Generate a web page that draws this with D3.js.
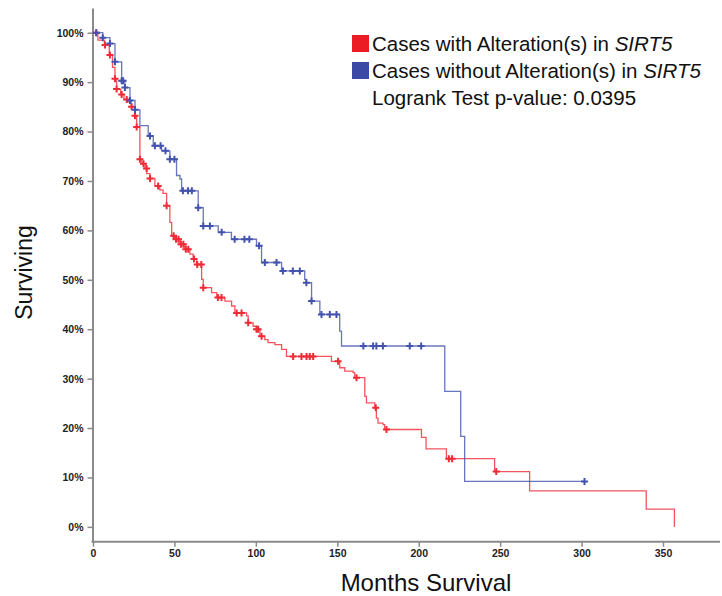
<!DOCTYPE html>
<html>
<head>
<meta charset="utf-8">
<script src="https://cdn.jsdelivr.net/npm/d3@7"></script>
<style>
  body { margin: 0; background: #fff; }
  svg { font-family: "Liberation Sans", Arial, sans-serif; }
</style>
</head>
<body>
<svg id="km" width="722" height="596"></svg>
<script>
// Kaplan-Meier steps: [months, % surviving]
const alteredSteps = [
  [0, 100], [3, 98.5], [7, 97.5], [10, 95.5], [12, 93], [13.5, 90.7], [14.5, 88.6],
  [17, 87.5], [19, 86.5], [21, 86], [23.5, 85], [25.8, 83.2], [26.8, 80.9], [28.8, 74.4],
  [30, 73.5], [32, 72.5], [33, 71.5], [35, 70.5], [38, 69], [41, 68.2], [43, 67.5],
  [45.2, 65], [47.2, 61.6], [48.3, 58.9], [50.3, 58.2], [53.4, 57.2], [56.4, 56.2],
  [59.5, 55.2], [61.5, 54.2], [63.6, 53.1], [66.7, 50.1], [67.7, 48.4], [72.8, 47.4],
  [76, 46.4], [81, 45.7], [85.1, 44.7], [87.1, 43.3], [94.3, 42.7], [95.3, 41.3],
  [98.3, 40.6], [100.4, 40], [102.5, 38.6], [105.5, 37.9], [107.5, 37.3], [111.7, 36.9],
  [115.8, 35.9], [118.8, 34.5], [146.4, 33.5], [151.5, 32.2], [154.6, 31.5], [159.7, 31.2],
  [160.7, 30.2], [166.9, 26.4], [167.9, 25.1], [173, 24.1], [174, 22], [175, 21],
  [178.1, 20.7], [179.1, 19.7], [201.7, 18.1], [204.5, 15.8], [217, 13.8], [246.6, 11.2],
  [268.1, 7.3], [339.7, 3.6], [357, 0]
];
const alteredCensored = [
  2, 7.4, 10.4, 13.5, 14.5, 17.6, 20.7, 23.7, 25.8, 26.8, 28.8, 31, 32.9, 35, 40, 45.2,
  49.5, 51, 52.5, 54, 55.5, 57, 58.5, 62, 64, 66.5, 67.7, 76.7, 78.9, 88.2, 91.2, 95.3,
  100.4, 101.4, 103.5, 122.9, 128, 131.1, 133.1, 135.2, 150.5, 161.8, 173.6, 180.2,
  218.5, 220.5, 247.6
];

const unalteredSteps = [
  [0, 100], [6, 99], [10.4, 97.8], [13.5, 94.1], [17.6, 90.3], [19.6, 88.9], [22.7, 86.3],
  [25.8, 84.4], [28.8, 81.2], [33.9, 79.1], [37, 77.1], [42.1, 76.1], [47.2, 74.4],
  [51.3, 71.1], [53.4, 70.4], [54.4, 68], [64.6, 64.6], [67.7, 60.9], [76.9, 59.6],
  [85, 58.2], [100.4, 56.9], [103.5, 53.5], [115.8, 51.8], [130, 50.1], [131, 49.4],
  [134.2, 45.7], [139.3, 43], [151.5, 39.6], [152.6, 36.6], [216, 27.4], [225.8, 18.3],
  [228.2, 9.2], [301.8, 9.2]
];
const unalteredCensored = [
  2, 6, 10.4, 13.5, 17.6, 18.5, 19.6, 22.7, 25.8, 35, 38, 41.5, 44.5, 47.2, 50, 55.2,
  58.3, 60.7, 64.6, 67.7, 71.8, 79, 87, 93, 96, 102, 105.5, 112.7, 116.6, 122.7, 127,
  131, 134.2, 140.3, 145.4, 149.5, 166, 172, 174, 178, 194.5, 201.5, 301.8
];

const xTicks = [0, 50, 100, 150, 200, 250, 300, 350];
const yTicks = [0, 10, 20, 30, 40, 50, 60, 70, 80, 90, 100];

const legendLabels = [
  { color: '#ec1c24', pre: 'Cases with Alteration(s) in ', gene: 'SIRT5' },
  { color: '#3c4aa6', pre: 'Cases without Alteration(s) in ', gene: 'SIRT5' }
];
const pValueText = 'Logrank Test p-value: 0.0395';

const svg = d3.select('#km');

const xScale = d3.scaleLinear()
  .domain([0, 385])
  .range([93, 720]);

const yScale = d3.scaleLinear()
  .domain([-3, 105])
  .range([541.7, 8]);

// axes
const yAxis = svg.append('g')
  .attr('transform', 'translate(92.5,0)')
  .call(d3.axisLeft(yScale).tickValues(yTicks).tickSize(5).tickSizeOuter(0).tickPadding(4)
    .tickFormat(d => d + '%'));

const xAxis = svg.append('g')
  .attr('transform', 'translate(0,541.7)')
  .call(d3.axisBottom(xScale).tickValues(xTicks).tickSize(5).tickSizeOuter(0).tickPadding(3));

[xAxis, yAxis].forEach(g => {
  g.select('.domain').attr('stroke', '#8a8a8a').attr('stroke-width', 2);
  g.selectAll('.tick line').attr('stroke', '#8a8a8a').attr('stroke-width', 1.5);
  g.selectAll('.tick text')
    .attr('fill', '#222')
    .attr('font-size', '10.5px')
    .attr('font-weight', 'bold')
    .attr('font-family', '"Liberation Sans", Arial, sans-serif');
});
xAxis.select('.domain').attr('d', 'M91.5,0H720');

// step line for each group
const stepLine = d3.line()
  .x(d => xScale(d[0]))
  .y(d => yScale(d[1]))
  .curve(d3.curveStepAfter);

const survivalAt = (steps, t) => {
  const i = d3.bisector(d => d[0]).right(steps, t) - 1;
  return steps[Math.max(0, i)][1];
};

const groups = [
  { steps: alteredSteps, censored: alteredCensored, color: '#ef2b36' },
  { steps: unalteredSteps, censored: unalteredCensored, color: '#4352ad' }
];

groups.forEach(grp => {
  svg.append('path')
    .attr('d', stepLine(grp.steps))
    .attr('fill', 'none')
    .attr('stroke', grp.color)
    .attr('stroke-width', 1.3)
    .attr('opacity', 0.8);

  svg.selectAll(null)
    .data(grp.censored)
    .enter()
    .append('path')
    .attr('d', 'M-3.5,0H3.5M0,-3.5V3.5')
    .attr('transform', t => `translate(${xScale(t)},${yScale(survivalAt(grp.steps, t))})`)
    .attr('stroke', grp.color)
    .attr('stroke-width', 2);
});

// legend
legendLabels.forEach((d, i) => {
  svg.append('rect')
    .attr('x', 352)
    .attr('y', 35 + i * 27)
    .attr('width', 17)
    .attr('height', 17)
    .attr('fill', d.color);

  const t = svg.append('text')
    .attr('x', 372)
    .attr('y', 51 + i * 27)
    .attr('font-size', '20.5px')
    .attr('fill', '#111');
  t.append('tspan').text(d.pre);
  t.append('tspan').attr('font-style', 'italic').text(d.gene);
});

svg.append('text')
  .attr('x', 372)
  .attr('y', 105)
  .attr('font-size', '20.5px')
  .attr('fill', '#111')
  .text(pValueText);

// axis titles
svg.append('text')
  .attr('x', 426)
  .attr('y', 591)
  .attr('text-anchor', 'middle')
  .attr('font-size', '24px')
  .attr('fill', '#111')
  .text('Months Survival');

svg.append('text')
  .attr('transform', 'translate(32,272.5) rotate(-90)')
  .attr('text-anchor', 'middle')
  .attr('font-size', '23px')
  .attr('fill', '#111')
  .text('Surviving');
</script>
</body>
</html>
